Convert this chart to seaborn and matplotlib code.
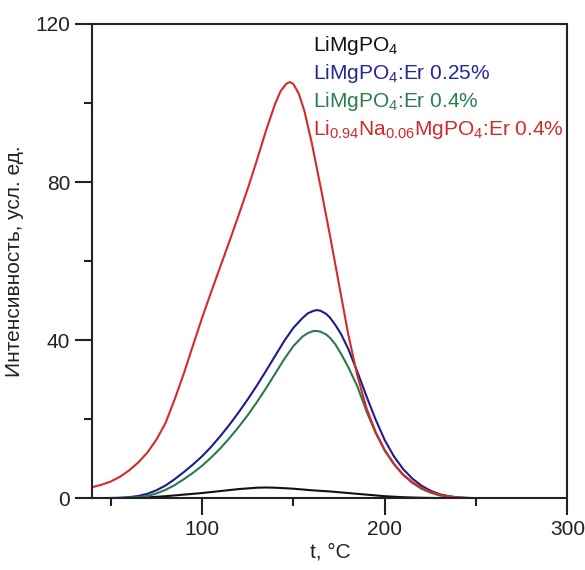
import matplotlib
matplotlib.use("Agg")
import matplotlib.pyplot as plt
import seaborn as sns
import pandas as pd

# ---- data ----
x_black = [40, 60, 70, 80, 90, 100, 110, 120, 130, 135, 140, 150, 160, 170, 180, 190, 200, 210, 220, 230, 240, 300]
y_black = [0.0, 0.05, 0.2, 0.5, 0.9, 1.3, 1.8, 2.3, 2.65, 2.7, 2.65, 2.4, 2.0, 1.7, 1.3, 0.9, 0.5, 0.25, 0.1, 0.03, 0.0, 0.0]

x_blue = [40, 50, 55, 60, 65, 70, 75, 80, 85, 90, 95, 100, 105, 110, 115, 120, 125, 130, 135, 140, 145, 150, 155, 158, 161, 163, 165, 168, 170,
          173, 176, 180, 185, 190, 195, 200, 205, 210, 215, 220, 225, 230, 235, 240, 245, 250, 300]
y_blue = [0.0, 0.05, 0.1, 0.25, 0.55, 1.1, 2.0, 3.2, 4.8, 6.6, 8.5, 10.6, 13.0, 15.7, 18.6, 21.7, 25.0, 28.5, 32.2, 36.0, 39.8, 43.1, 45.6, 46.8, 47.4, 47.6, 47.4, 46.6, 45.7,
          43.8, 41.6, 37.8, 32.0, 25.8, 19.9, 14.7, 10.6, 7.4, 5.0, 3.2, 1.9, 1.0, 0.5, 0.2, 0.07, 0.0, 0.0]

x_green = [40, 55, 60, 65, 70, 75, 80, 85, 90, 95, 100, 105, 110, 115, 120, 125, 130, 135, 140, 145, 150, 155, 158, 161, 163, 165, 168, 170,
           173, 176, 180, 185, 190, 195, 200, 205, 210, 215, 220, 225, 230, 235, 240, 245, 250, 300]
y_green = [0.0, 0.05, 0.1, 0.25, 0.55, 1.2, 2.1, 3.3, 4.8, 6.4, 8.2, 10.3, 12.6, 15.2, 18.0, 21.0, 24.3, 27.8, 31.5, 35.2, 38.5, 40.9, 41.8, 42.3, 42.3, 42.1, 41.4, 40.6,
           38.9, 36.6, 33.2, 28.3, 22.0, 16.5, 12.0, 8.6, 5.9, 3.9, 2.4, 1.4, 0.7, 0.3, 0.1, 0.03, 0.0, 0.0]

x_red = [40, 45, 50, 55, 60, 65, 70, 75, 80, 85, 90, 95, 100, 105, 110, 115, 120, 125, 130, 135, 140, 143, 146, 148, 150, 153, 156, 160,
         165, 170, 175, 180, 185, 190, 195, 200, 205, 210, 215, 220, 225, 230, 235, 240, 245, 250, 300]
y_red = [2.8, 3.4, 4.2, 5.4, 7.0, 9.0, 11.5, 14.8, 19.0, 25.0, 31.5, 38.6, 45.6, 52.2, 58.6, 65.0, 71.6, 78.3, 85.5, 93.0, 99.8, 103.0, 104.8, 105.3, 104.8, 102.3, 98.0, 90.0,
         78.5, 66.5, 54.0, 41.5, 31.0, 22.8, 16.8, 12.2, 8.7, 6.0, 4.1, 2.7, 1.6, 0.9, 0.45, 0.2, 0.07, 0.0, 0.0]

labels = ["LiMgPO$_4$", "LiMgPO$_4$:Er 0.25%", "LiMgPO$_4$:Er 0.4%",
          "Li$_{0.94}$Na$_{0.06}$MgPO$_4$:Er 0.4%"]

x_ticks = [100, 200, 300]
x_minor = [50, 150, 250]
y_ticks = [0, 40, 80, 120]
y_minor = [20, 60, 100]

# ---- style ----
sns.set_style("ticks")
plt.rcParams["font.family"] = ["Liberation Sans", "DejaVu Sans"]
plt.rcParams["mathtext.fontset"] = "custom"
plt.rcParams["mathtext.rm"] = "Liberation Sans"
plt.rcParams["mathtext.it"] = "Liberation Sans:italic"
plt.rcParams["mathtext.bf"] = "Liberation Sans:bold"

line_colors = ["#111111", "#1c1c8e", "#2b7a4b", "#d42a2a"]
text_colors = ["#111111", "#26269a", "#2e7d50", "#cf2b2b"]

fig = plt.figure(figsize=(5.85, 5.70), dpi=100)
ax = fig.add_axes([0.158, 0.126, 0.812, 0.832])

series = [(x_black, y_black), (x_blue, y_blue), (x_green, y_green), (x_red, y_red)]
for (xs, ys), c in zip(series, line_colors):
    df = pd.DataFrame({"t": xs, "I": ys})
    sns.lineplot(data=df, x="t", y="I", color=c, linewidth=1.5, ax=ax, estimator=None)

ax.set_xlim(40, 300)
ax.set_ylim(0, 120)
ax.set_xticks(x_ticks)
ax.set_xticks(x_minor, minor=True)
ax.set_yticks(y_ticks)
ax.set_yticks(y_minor, minor=True)
ax.tick_params(axis="both", which="major", direction="out", length=12, width=1.5,
               labelsize=15, color="#222222", labelcolor="#222222", pad=4)
ax.tick_params(axis="both", which="minor", direction="out", length=6, width=1.5, color="#222222")
for s in ax.spines.values():
    s.set_linewidth(1.5)
    s.set_color("#222222")

ax.set_xlabel("t, °C", fontsize=15, color="#222222", labelpad=2)
ax.set_ylabel("Интенсивность, усл. ед.", fontsize=15, color="#222222", labelpad=8)

y0 = 0.943
for i, (lab, c) in enumerate(zip(labels, text_colors)):
    ax.text(0.464, y0 - i * 0.059, lab, transform=ax.transAxes, fontsize=15,
            color=c, ha="left", va="baseline")

fig.savefig("out.png", dpi=100)
